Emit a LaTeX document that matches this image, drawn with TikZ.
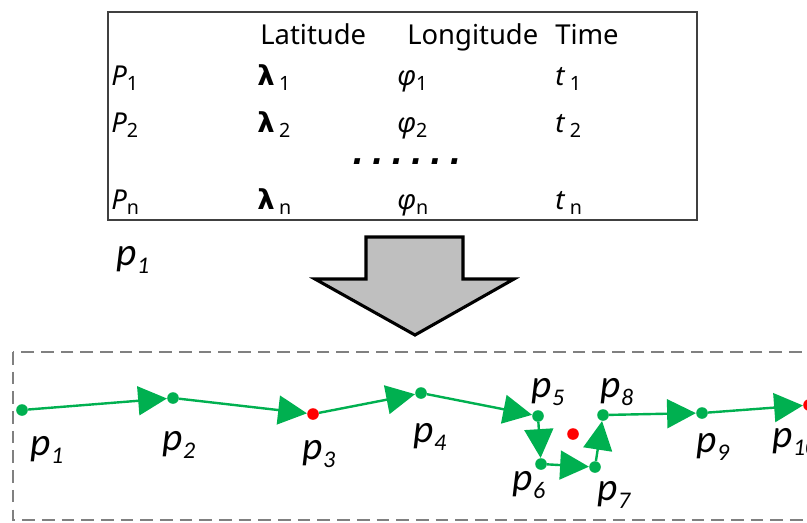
\documentclass[tikz,border=0pt]{standalone}
\usepackage{fontspec}
\setmainfont{Noto Sans}
\newfontfamily\calfont{Carlito}
\newfontfamily\grkfont{DejaVu Sans}
\usetikzlibrary{arrows.meta}
\definecolor{trkgreen}{RGB}{0,176,80}
\definecolor{arrgray}{RGB}{191,191,191}
\newcommand{\tsub}[1]{\raisebox{-0.35ex}{\fontsize{14}{14}\selectfont #1}}
\newcommand{\psub}[1]{\raisebox{-0.22em}{\fontsize{17}{17}\selectfont #1}}
\newcommand{\blam}{{\grkfont\bfseries λ}}
\tikzset{
  cell/.style={anchor=base west, inner sep=0pt, font=\fontsize{19.5}{23}\selectfont},
  dot/.style={circle, fill=trkgreen, inner sep=0pt, minimum size=0.29cm},
  reddot/.style={dot, fill=red},
  plabel/.style={inner sep=0pt, font=\calfont\itshape\fontsize{28}{28}\selectfont},
  trk/.style={draw=trkgreen, line width=0.06cm, -{Triangle[length=0.72cm, width=0.72cm]}},
}
\begin{document}
\begin{tikzpicture}[x=0.025cm, y=-0.025cm]
\clip (0,0) rectangle (807,522);
% table of records
\draw[black!75, line width=1.2pt] (108,12) rectangle (697,220);
\node[cell] (hlat) at (260,44) {Latitude};
\node[cell] (hlon) at (407,44) {Longitude};
\node[cell] (htime) at (555,44) {Time};
\node[cell] (r1) at (111,85) {\textit{P}\tsub{1}};
\node[cell] (r1lat) at (257,85) {\blam\,\tsub{1}};
\node[cell] (r1lon) at (397,85) {\textit{φ}\tsub{1}};
\node[cell] (r1t) at (555,85) {\textit{t}\,\tsub{1}};
\node[cell] (r2) at (111,132) {\textit{P}\tsub{2}};
\node[cell] (r2lat) at (257,132) {\blam\,\tsub{2}};
\node[cell] (r2lon) at (397,132) {\textit{φ}\tsub{2}};
\node[cell] (r2t) at (555,132) {\textit{t}\,\tsub{2}};
\node[cell, font=\grkfont\fontsize{22}{22}\selectfont\bfseries\itshape\addfontfeature{LetterSpace=25}] (dots) at (352,164) {......};
\node[cell] (rn) at (111,209) {\textit{P}\tsub{n}};
\node[cell] (rnlat) at (257,209) {\blam\,\tsub{n}};
\node[cell] (rnlon) at (397,209) {\textit{φ}\tsub{n}};
\node[cell] (rnt) at (555,209) {\textit{t}\,\tsub{n}};
\node[plabel] (lone) at (133,260) {p\psub{1}};
% block arrow
\draw[fill=arrgray, line width=2.2pt, line join=miter] (366,237) -- (463,237) -- (463,279) -- (514,279)
  -- (415,335) -- (315,279) -- (366,279) -- cycle;
% trajectory
\draw[black!50, line width=1pt, dash pattern=on 9pt off 5pt] (13,352) rectangle (830,520);
\node[dot] (p1) at (22,410) {};
\node[dot] (p2) at (173,398) {};
\node[reddot] (p3) at (313,414) {};
\node[dot] (p4) at (421,393) {};
\node[dot] (p5) at (538,416) {};
\node[dot] (p6) at (541,464) {};
\node[dot] (p7) at (595,467) {};
\node[dot] (p8) at (603,415) {};
\node[dot] (p9) at (702,413) {};
\node[reddot] (p10) at (809,405) {};
\node[reddot] (px) at (573,434) {};
\foreach \a/\b in {p1/p2, p2/p3, p3/p4, p4/p5, p5/p6, p6/p7, p7/p8, p8/p9, p9/p10}
  \draw[trk] (\a) -- (\b);
\node[plabel] (l1) at (47,450) {p\psub{1}};
\node[plabel] (l2) at (179,445) {p\psub{2}};
\node[plabel] (l3) at (319,454) {p\psub{3}};
\node[plabel] (l4) at (430,437) {p\psub{4}};
\node[plabel] (l5) at (548,392) {p\psub{5}};
\node[plabel] (l6) at (529,485) {p\psub{6}};
\node[plabel] (l7) at (614,495) {p\psub{7}};
\node[plabel] (l8) at (617,392) {p\psub{8}};
\node[plabel] (l9) at (713,447) {p\psub{9}};
\node[plabel] (l10) at (795,442) {p\psub{10}};
\end{tikzpicture}
\end{document}
